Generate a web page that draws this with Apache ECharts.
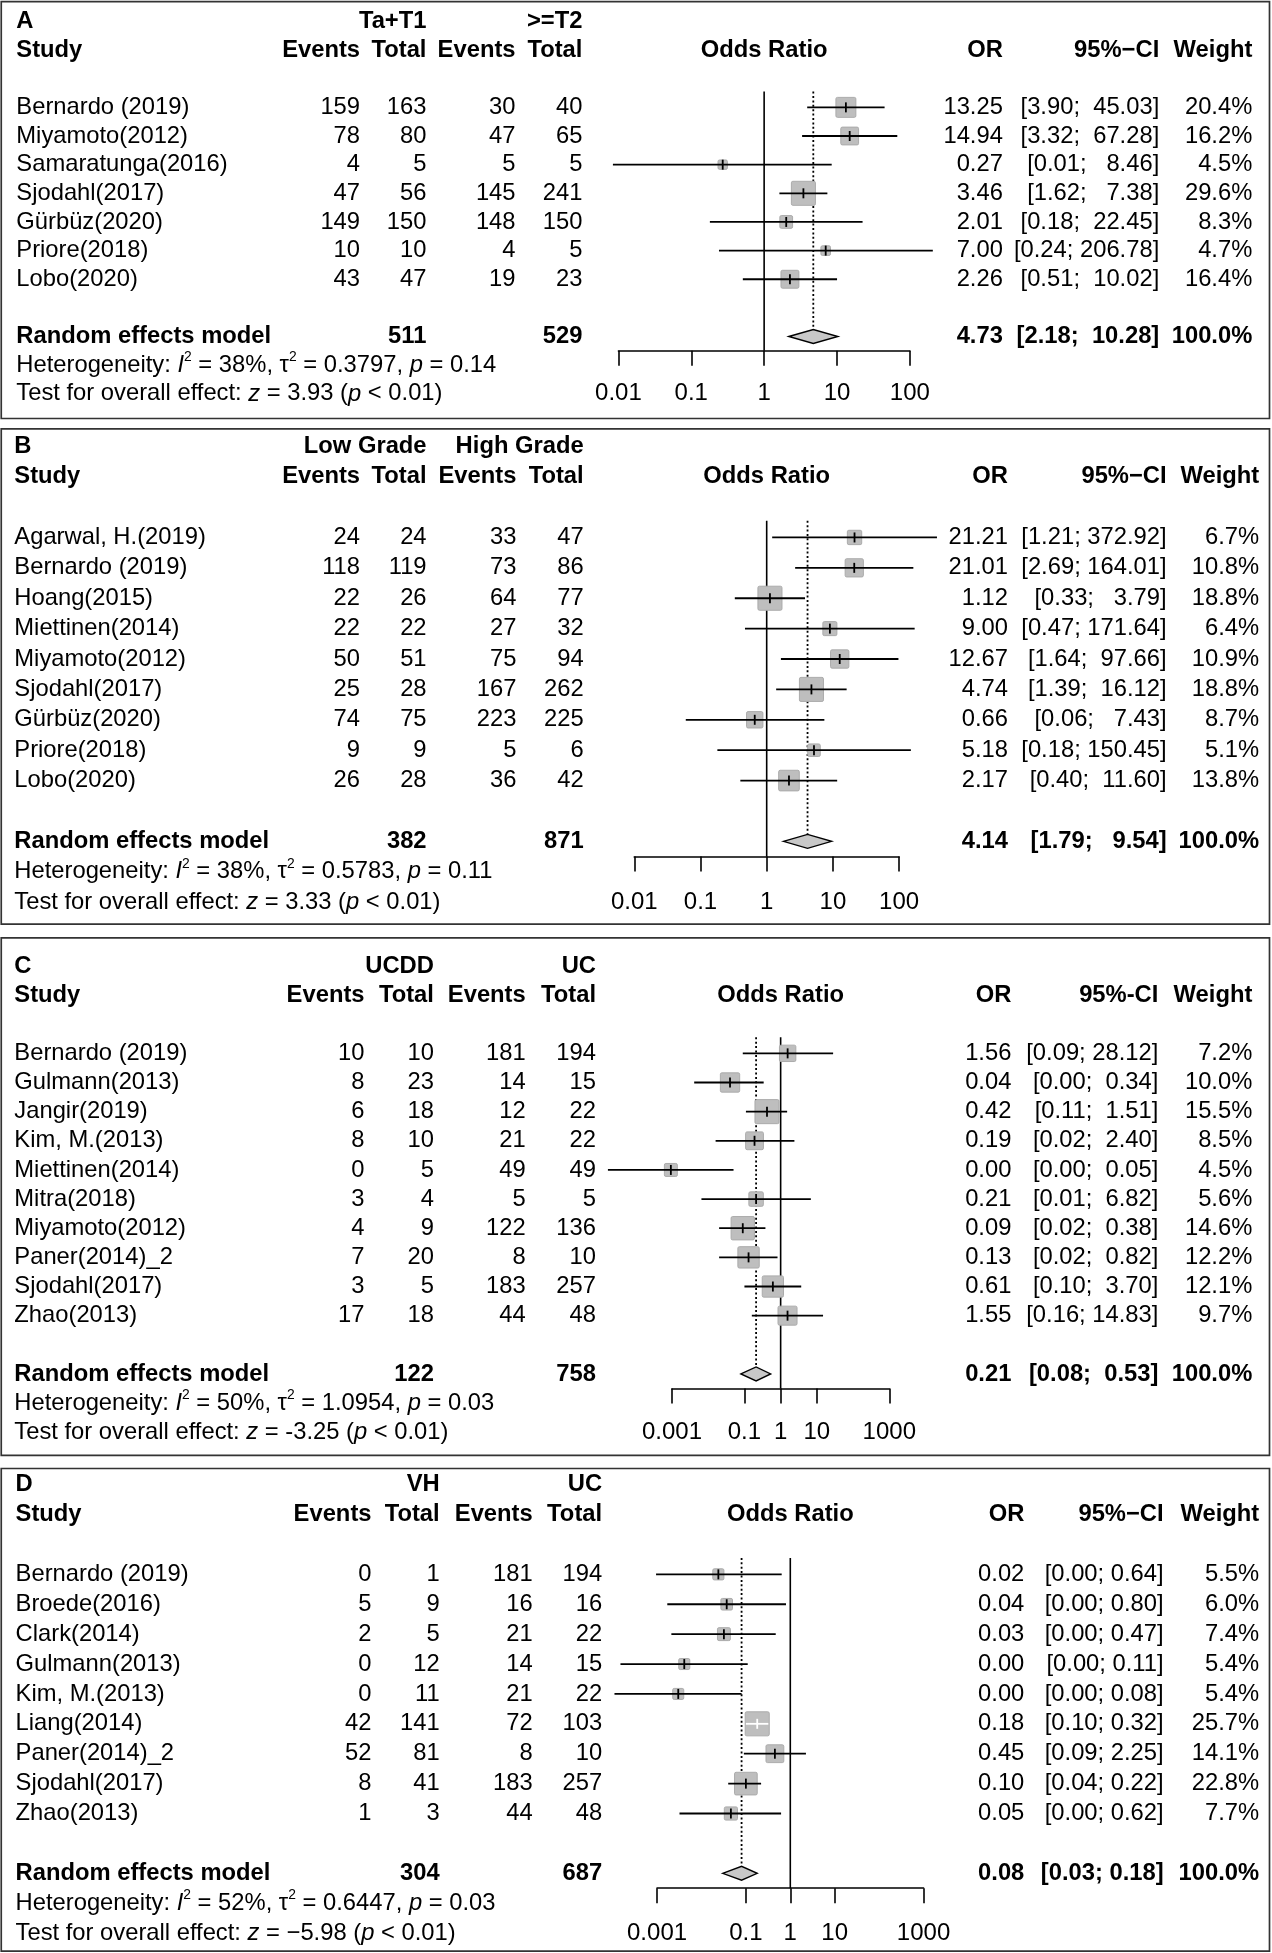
<!DOCTYPE html>
<html><head><meta charset="utf-8">
<script src="https://cdn.jsdelivr.net/npm/echarts@6/dist/echarts.min.js"></script>
<style>html,body{margin:0;padding:0;background:#fff}#c{width:1272px;height:1953px}</style>
</head><body><div id="c"></div>
<script>
// ===== Panel A : Ta+T1 vs >=T2 =====
const studyA = ['Bernardo (2019)','Miyamoto(2012)','Samaratunga(2016)','Sjodahl(2017)','Gürbüz(2020)','Priore(2018)','Lobo(2020)'];
const eventsA1 = [159,78,4,47,149,10,43];
const totalA1  = [163,80,5,56,150,10,47];
const eventsA2 = [30,47,5,145,148,4,19];
const totalA2  = [40,65,5,241,150,5,23];
const orA = [13.25,14.94,0.27,3.46,2.01,7.00,2.26];
const loA = [3.90,3.32,0.0084,1.62,0.18,0.24,0.51];
const hiA = [45.03,67.28,8.46,7.38,22.45,206.78,10.02];
const weightA = [20.4,16.2,4.5,29.6,8.3,4.7,16.4];
const sumTotalA = [511,529];
const sumEffectA = [4.73,2.18,10.28];
const hetA = ['38%','0.3797','0.14'];
const testA = ['3.93','< 0.01'];
const ticksA = [0.01,0.1,1,10,100];
const tickLabelsA = ['0.01','0.1','1','10','100'];

// ===== Panel B : Low Grade vs High Grade =====
const studyB = ['Agarwal, H.(2019)','Bernardo (2019)','Hoang(2015)','Miettinen(2014)','Miyamoto(2012)','Sjodahl(2017)','Gürbüz(2020)','Priore(2018)','Lobo(2020)'];
const eventsB1 = [24,118,22,22,50,25,74,9,26];
const totalB1  = [24,119,26,22,51,28,75,9,28];
const eventsB2 = [33,73,64,27,75,167,223,5,36];
const totalB2  = [47,86,77,32,94,262,225,6,42];
const orB = [21.21,21.01,1.12,9.00,12.67,4.74,0.66,5.18,2.17];
const loB = [1.21,2.69,0.33,0.47,1.64,1.39,0.06,0.18,0.40];
const hiB = [372.92,164.01,3.79,171.64,97.66,16.12,7.43,150.45,11.60];
const weightB = [6.7,10.8,18.8,6.4,10.9,18.8,8.7,5.1,13.8];
const sumTotalB = [382,871];
const sumEffectB = [4.14,1.79,9.54];
const hetB = ['38%','0.5783','0.11'];
const testB = ['3.33','< 0.01'];
const ticksB = [0.01,0.1,1,10,100];
const tickLabelsB = ['0.01','0.1','1','10','100'];

// ===== Panel C : UCDD vs UC =====
const studyC = ['Bernardo (2019)','Gulmann(2013)','Jangir(2019)','Kim, M.(2013)','Miettinen(2014)','Mitra(2018)','Miyamoto(2012)','Paner(2014)_2','Sjodahl(2017)','Zhao(2013)'];
const eventsC1 = [10,8,6,8,0,3,4,7,3,17];
const totalC1  = [10,23,18,10,5,4,9,20,5,18];
const eventsC2 = [181,14,12,21,49,5,122,8,183,44];
const totalC2  = [194,15,22,22,49,5,136,10,257,48];
const orC = [1.56,0.04,0.42,0.19,0.00093,0.21,0.09,0.13,0.61,1.55];
const loC = [0.09,0.0041,0.11,0.016,0.000017,0.0065,0.02,0.02,0.10,0.16];
const hiC = [28.12,0.34,1.51,2.40,0.05,6.82,0.38,0.82,3.70,14.83];
const weightC = [7.2,10.0,15.5,8.5,4.5,5.6,14.6,12.2,12.1,9.7];
const sumTotalC = [122,758];
const sumEffectC = [0.21,0.08,0.53];
const hetC = ['50%','1.0954','0.03'];
const testC = ['-3.25','< 0.01'];
const ticksC = [0.001,0.1,1,10,1000];
const tickLabelsC = ['0.001','0.1','1','10','1000'];

// ===== Panel D : VH vs UC =====
const studyD = ['Bernardo (2019)','Broede(2016)','Clark(2014)','Gulmann(2013)','Kim, M.(2013)','Liang(2014)','Paner(2014)_2','Sjodahl(2017)','Zhao(2013)'];
const eventsD1 = [0,5,2,0,0,42,52,8,1];
const totalD1  = [1,9,5,12,11,141,81,41,3];
const eventsD2 = [181,16,21,14,21,72,8,183,44];
const totalD2  = [194,16,22,15,22,103,10,257,48];
const orD = [0.024,0.037,0.032,0.0041,0.003,0.18,0.45,0.10,0.046];
const loD = [0.00095,0.0017,0.0021,0.00015,0.00011,0.10,0.09,0.04,0.0032];
const hiD = [0.64,0.80,0.47,0.11,0.08,0.32,2.25,0.22,0.62];
const weightD = [5.5,6.0,7.4,5.4,5.4,25.7,14.1,22.8,7.7];
const sumTotalD = [304,687];
const sumEffectD = [0.08,0.03,0.18];
const hetD = ['52%','0.6447','0.03'];
const testD = ['\u22125.98','< 0.01'];
const ticksD = [0.001,0.1,1,10,1000];
const tickLabelsD = ['0.001','0.1','1','10','1000'];

// ===== Layout (reference units 1021 x 1568) =====
const SX = 1272/1021, SY = 1953/1568;
const FONT = '"Liberation Sans", Arial, Helvetica, sans-serif';
const FS = 24, SCX = 0.99;
const BOXMAX = 19.3*SX, TICKH = 10, DH = 5.6*SY;
const R_TOP = -0.55;

const panels = [
 {letter:'A', g1:'Ta+T1', g2:'>=T2', ciHead:'95%\u2212CI', study:studyA, ev1:eventsA1, tot1:totalA1, ev2:eventsA2, tot2:totalA2,
  or:orA, lo:loA, hi:hiA, w:weightA, sumTot:sumTotalA, sumEff:sumEffectA, het:hetA, test:testA, ticks:ticksA, tickLabels:tickLabelsA,
  L:{y0:86.2, sp:23.0, xL:13.1, cols:[289,342.3,413.8,467.5], ax:[496.4,730.3], right:[805,930.5,1005.2], box:[1.3,336]}},
 {letter:'B', g1:'Low Grade', g2:'High Grade', ciHead:'95%\u2212CI', study:studyB, ev1:eventsB1, tot1:totalB1, ev2:eventsB2, tot2:totalB2,
  or:orB, lo:loB, hi:hiB, w:weightB, sumTot:sumTotalB, sumEff:sumEffectB, het:hetB, test:testB, ticks:ticksB, tickLabels:tickLabelsB,
  L:{y0:431.5, sp:24.4, xL:11.5, cols:[289,342.4,414.5,468.5], ax:[509.1,721.7], right:[809.1,936.4,1010.7], box:[344.3,742]}},
 {letter:'C', g1:'UCDD', g2:'UC', ciHead:'95%-CI', study:studyC, ev1:eventsC1, tot1:totalC1, ev2:eventsC2, tot2:totalC2,
  or:orC, lo:loC, hi:hiC, w:weightC, sumTot:sumTotalC, sumEff:sumEffectC, het:hetC, test:testC, ticks:ticksC, tickLabels:tickLabelsC,
  L:{y0:845.7, sp:23.4, xL:11.5, cols:[292.6,348.3,422,478.4], ax:[539.4,713.8], right:[811.8,929.8,1005.2], box:[753,1168.5]}},
 {letter:'D', g1:'VH', g2:'UC', ciHead:'95%\u2212CI', study:studyD, ev1:eventsD1, tot1:totalD1, ev2:eventsD2, tot2:totalD2,
  or:orD, lo:loD, hi:hiD, w:weightD, sumTot:sumTotalD, sumEff:sumEffectD, het:hetD, test:testD, ticks:ticksD, tickLabels:tickLabelsD,
  L:{y0:1264, sp:24.0, xL:12.5, cols:[298.2,352.9,427.6,483.3], ax:[527.4,741.3], right:[822.2,934,1010.7], box:[1179,1566.5]}}
];

// ===== Build text items =====
const texts = [];
panels.forEach(p => {
  const L = p.L;
  const add = (x, r, text, align, bold, rich) => texts.push({x, y: L.y0 + r*L.sp, text, align, bold: !!bold, rich: !!rich});
  const n = p.study.length, re = n + 1;
  const los = p.lo.concat([p.sumEff[1]]).map(v => v.toFixed(2));
  const his = p.hi.concat([p.sumEff[2]]).map(v => v.toFixed(2));
  const lw = Math.max(...los.map(s => s.length)), hw = Math.max(...his.map(s => s.length));
  const ci = (l, h) => '[' + l.toFixed(2).padStart(lw) + '; ' + h.toFixed(2).padStart(hw) + ']';
  add(L.xL, -3, p.letter, 'left', true);
  add(L.cols[1], -3, p.g1, 'right', true);
  add(L.cols[3], -3, p.g2, 'right', true);
  add(L.xL, -2, 'Study', 'left', true);
  ['Events','Total','Events','Total'].forEach((t, i) => add(L.cols[i], -2, t, 'right', true));
  add((L.ax[0] + L.ax[1]) / 2, -2, 'Odds Ratio', 'center', true);
  add(L.right[0], -2, 'OR', 'right', true);
  add(L.right[1], -2, p.ciHead, 'right', true);
  add(L.right[2], -2, 'Weight', 'right', true);
  for (let i = 0; i < n; i++) {
    add(L.xL, i, p.study[i], 'left');
    add(L.cols[0], i, String(p.ev1[i]), 'right');
    add(L.cols[1], i, String(p.tot1[i]), 'right');
    add(L.cols[2], i, String(p.ev2[i]), 'right');
    add(L.cols[3], i, String(p.tot2[i]), 'right');
    add(L.right[0], i, p.or[i].toFixed(2), 'right');
    add(L.right[1], i, ci(p.lo[i], p.hi[i]), 'right');
    add(L.right[2], i, p.w[i].toFixed(1) + '%', 'right');
  }
  add(L.xL, re, 'Random effects model', 'left', true);
  add(L.cols[1], re, String(p.sumTot[0]), 'right', true);
  add(L.cols[3], re, String(p.sumTot[1]), 'right', true);
  add(L.right[0], re, p.sumEff[0].toFixed(2), 'right', true);
  add(L.right[1], re, ci(p.sumEff[1], p.sumEff[2]), 'right', true);
  add(L.right[2], re, '100.0%', 'right', true);
  add(L.xL, re + 1, 'Heterogeneity: {i|I}{s|2} = ' + p.het[0] + ', \u03C4{s|2} = ' + p.het[1] + ', {i|p} = ' + p.het[2], 'left', false, true);
  add(L.xL, re + 2, 'Test for overall effect: {i|z} = ' + p.test[0] + ' ({i|p} ' + p.test[1] + ')', 'left', false, true);
});

const RICH = {
  i: {fontStyle: 'italic', fontSize: FS, fontFamily: FONT, fill: '#000'},
  s: {fontSize: 14, fontFamily: FONT, fill: '#000', padding: [0, 0, 16, 0]}
};

// ===== Option =====
const grids = [{left: 0, top: 0, width: 1272, height: 1953, outerBoundsMode: 'none'}];
const xAxes = [{type: 'value', gridIndex: 0, min: 0, max: 1021, show: false}];
const yAxes = [{type: 'value', gridIndex: 0, min: 0, max: 1568, inverse: true, show: false}];
const series = [];

panels.forEach((p, k) => {
  const gi = k + 1, L = p.L, n = p.study.length, re = n + 1, rAx = re + 0.5;
  grids.push({left: SX*L.ax[0], width: SX*(L.ax[1] - L.ax[0]), top: SY*(L.y0 + R_TOP*L.sp), height: SY*(rAx - R_TOP)*L.sp, outerBoundsMode: 'none'});
  const tv = p.ticks.map(Math.log10);
  xAxes.push({
    type: 'value', gridIndex: gi, min: tv[0], max: tv[tv.length - 1], splitLine: {show: false},
    axisLine: {show: true, onZero: false, lineStyle: {color: '#000', width: 1.6}},
    axisTick: {show: true, customValues: tv, length: 15, lineStyle: {color: '#000', width: 1.6}},
    axisLabel: {show: true, customValues: tv, color: '#000', fontSize: FS, fontFamily: FONT,
      margin: 1.5*L.sp*SY, verticalAlign: 'middle',
      formatter: v => { const i = tv.findIndex(t => Math.abs(t - v) < 1e-6); return i >= 0 ? p.tickLabels[i] : ''; }}
  });
  yAxes.push({type: 'value', gridIndex: gi, min: R_TOP, max: rAx, inverse: true, show: false});

  // reference line (OR = 1), dotted summary line, diamond
  const refOR = 1;
  series.push({
    type: 'custom', xAxisIndex: gi, yAxisIndex: gi, clip: false, silent: true, z: 2,
    data: [[Math.log10(p.sumEff[0]), re, Math.log10(p.sumEff[1]), Math.log10(p.sumEff[2])]],
    renderItem: (params, api) => {
      const v0 = api.value(0), r = api.value(1);
      const c = api.coord([v0, r]), l = api.coord([api.value(2), r]), h = api.coord([api.value(3), r]);
      const t1 = api.coord([Math.log10(refOR), R_TOP]), b1 = api.coord([Math.log10(refOR), rAx]);
      const td = api.coord([v0, R_TOP]);
      return {type: 'group', children: [
        {type: 'line', shape: {x1: t1[0], y1: t1[1], x2: b1[0], y2: b1[1]}, style: {stroke: '#000', lineWidth: 1.6}},
        {type: 'line', shape: {x1: td[0], y1: td[1], x2: c[0], y2: c[1] - DH}, style: {stroke: '#000', lineWidth: 1.8, lineDash: [2, 2.4]}},
        {type: 'polygon', shape: {points: [[l[0], c[1]], [c[0], c[1] - DH], [h[0], c[1]], [c[0], c[1] + DH]]},
          style: {fill: '#C8C8C8', stroke: '#000', lineWidth: 1.4}}
      ]};
    }
  });

  // study boxes + CI lines
  const wmax = Math.max(...p.w);
  series.push({
    type: 'custom', xAxisIndex: gi, yAxisIndex: gi, clip: false, silent: true, z: 3,
    data: p.study.map((s, i) => [Math.log10(p.or[i]), i, Math.log10(p.lo[i]), Math.log10(p.hi[i]), p.w[i]]),
    renderItem: (params, api) => {
      const r = api.value(1);
      const c = api.coord([api.value(0), r]), l = api.coord([api.value(2), r]), h = api.coord([api.value(3), r]);
      const side = BOXMAX * Math.sqrt(api.value(4) / wmax);
      const inside = l[0] >= c[0] - side/2 && h[0] <= c[0] + side/2;
      const col = inside ? '#fff' : '#000';
      return {type: 'group', children: [
        {type: 'rect', shape: {x: c[0] - side/2, y: c[1] - side/2, width: side, height: side, r: 1.5}, style: {fill: '#BEBEBE', stroke: '#ABABAB', lineWidth: 1}},
        {type: 'line', shape: {x1: l[0], y1: c[1], x2: h[0], y2: c[1]}, style: {stroke: col, lineWidth: 1.8}},
        {type: 'line', shape: {x1: c[0], y1: c[1] - TICKH/2, x2: c[0], y2: c[1] + TICKH/2}, style: {stroke: col, lineWidth: 1.8}}
      ]};
    }
  });
});

// all table text, placed through grid 0
series.push({
  type: 'custom', xAxisIndex: 0, yAxisIndex: 0, clip: false, silent: true, z: 5,
  data: texts.map(t => [t.x, t.y]),
  renderItem: (params, api) => {
    const t = texts[params.dataIndex];
    const pt = api.coord([api.value(0), api.value(1)]);
    const style = {text: t.text, x: 0, y: 0, align: t.align, verticalAlign: 'middle', textAlign: t.align, textVerticalAlign: 'middle',
      fill: '#000', fontSize: FS, fontFamily: FONT, fontWeight: t.bold ? 'bold' : 'normal'};
    if (t.rich) style.rich = RICH;
    return {type: 'text', x: pt[0], y: pt[1], scaleX: SCX, style: style};
  }
});

const chart = echarts.init(document.getElementById('c'), null, {renderer: 'canvas'});
chart.setOption({
  animation: false,
  backgroundColor: '#fff',
  grid: grids, xAxis: xAxes, yAxis: yAxes, series: series,
  graphic: panels.map(p => ({type: 'rect', silent: true,
    shape: {x: SX*1, y: SY*p.L.box[0], width: SX*1018, height: SY*(p.L.box[1] - p.L.box[0])},
    style: {fill: 'none', stroke: '#333', lineWidth: 1.7}}))
});
</script></body></html>
